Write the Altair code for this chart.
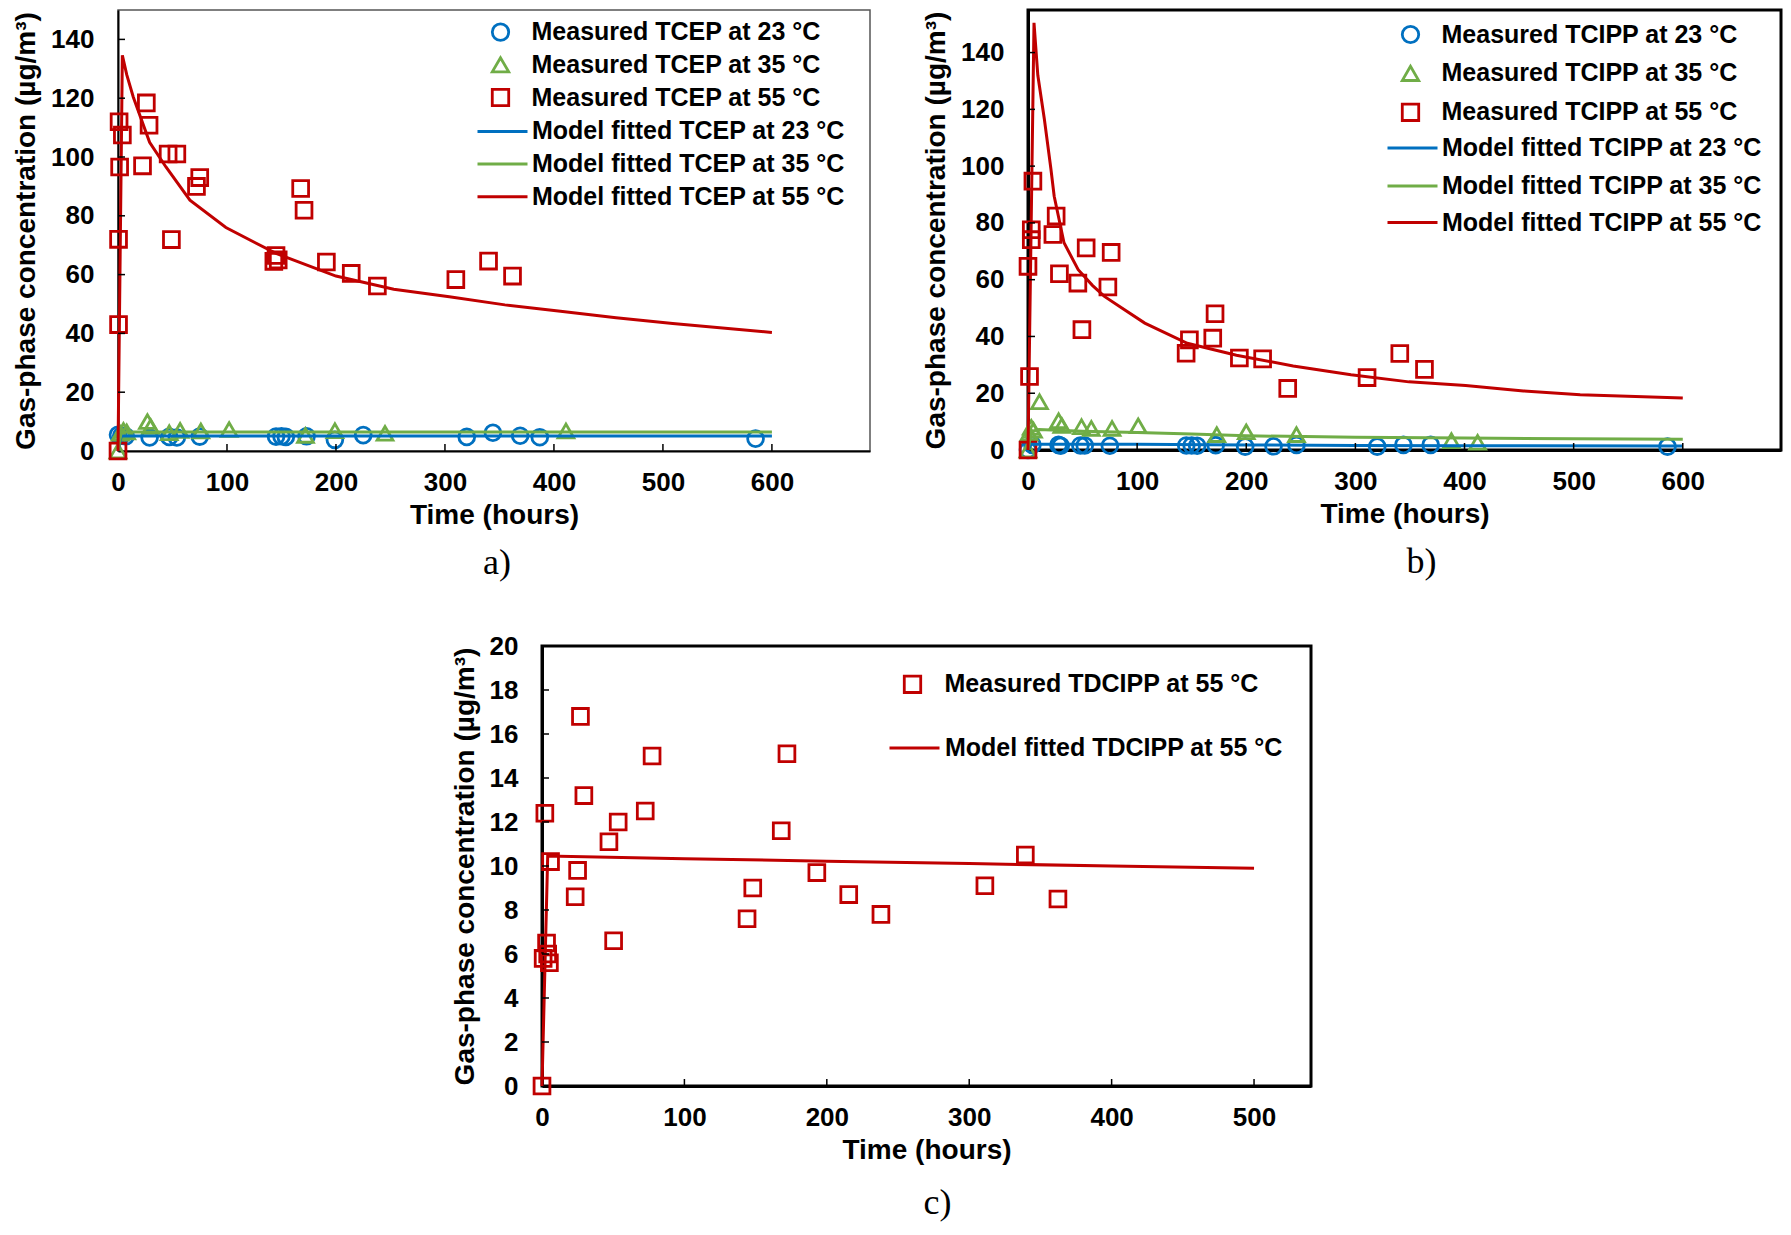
import altair as alt
import pandas as pd

BLUE = "#0070C0"
GREEN = "#70AD47"
RED = "#C00000"
SANS = "Liberation Sans"
SERIF = "Liberation Serif"

# ---------------- Panel a: TCEP ----------------
a_m23_t = [0, 3, 7, 29, 47, 54, 75, 145, 150, 154, 173, 199, 225, 320, 344, 369, 387, 585]
a_m23_v = [5.5, 5.2, 5.0, 4.6, 4.8, 4.6, 4.9, 4.9, 5.0, 4.8, 5.0, 3.8, 5.4, 4.8, 6.2, 5.2, 4.7, 4.2]
a_m35_t = [0, 2, 5, 8, 27, 30, 47, 57, 76, 102, 172, 199, 245, 411]
a_m35_v = [0, 6.0, 7.0, 6.5, 10.0, 8.3, 6.2, 7.0, 6.8, 7.3, 5.3, 6.9, 6.0, 6.8]
a_m55_t = [0, 0.5, 0.5, 1.5, 1, 4, 22.5, 26, 28.5, 46, 54, 49, 72, 75, 143, 145, 147,
           167.6, 170.7, 191.2, 214, 238, 310, 340, 362]
a_m55_v = [0, 43, 72, 96.6, 112, 107.5, 97, 118.4, 110.8, 101, 101, 71.9, 90, 93, 64.5, 66.5, 65,
           89.3, 81.9, 64.3, 60.4, 56.1, 58.3, 64.6, 59.5]
a_f23_t = [0, 3, 600]
a_f23_v = [0, 5.1, 5.1]
a_f35_t = [0, 3, 600]
a_f35_v = [0, 6.5, 6.5]
a_f55_t = [0, 4, 8, 14, 29, 44, 66, 99, 145, 200, 253, 304, 355, 406, 457, 509, 600]
a_f55_v = [0, 134.6, 128, 120.4, 105, 96.6, 85.3, 76, 67.2, 59.5, 55, 52.5, 49.7, 47.5, 45.3, 43.4, 40.3]

# ---------------- Panel b: TCIPP ----------------
b_m23_t = [0, 4, 28, 30, 48, 52, 75, 145, 150, 155, 172, 199, 225, 246, 320, 344, 369, 586]
b_m23_v = [0, 1.8, 1.8, 1.5, 1.6, 1.6, 1.5, 1.6, 1.6, 1.5, 1.7, 1.2, 1.3, 1.8, 1.2, 1.8, 1.8, 1.2]
b_m35_t = [0, 1, 3, 5, 10.5, 28, 31, 49, 58, 77, 101, 173, 200, 246, 388, 412]
b_m35_v = [0, 6, 8, 7, 17, 10.3, 8.6, 8.2, 7.6, 7.6, 8.5, 5.4, 6.4, 5.4, 3.3, 2.7]
b_m55_t = [0, 0, 1.4, 3, 3, 4.5, 22.8, 25.8, 28.8, 45.7, 49.4, 53.3, 73.2, 76.2, 144.9, 147.9,
           169.3, 171.4, 193.7, 215, 238, 310.7, 340.7, 363.3]
b_m55_v = [0, 64.7, 25.9, 77.6, 74.1, 94.7, 75.9, 82.4, 62.1, 58.8, 42.4, 71.2, 57.4, 69.6, 34.1, 38.8,
           39.4, 48, 32.4, 32.1, 21.7, 25.5, 34, 28.4]
b_f23_t = [0, 3, 100, 200, 300, 400, 600]
b_f23_v = [0, 2.0, 2.0, 1.8, 1.6, 1.5, 1.4]
b_f35_t = [0, 3, 10, 50, 100, 150, 200, 300, 400, 500, 600]
b_f35_v = [0, 6.5, 7.2, 6.6, 6.2, 5.6, 5.0, 4.5, 4.2, 4.0, 3.8]
b_f55_t = [0, 5.5, 9, 15, 21, 24, 33, 46, 59, 70, 86, 107, 146, 191, 243, 296, 349, 401, 454, 506, 600]
b_f55_v = [0, 150.5, 132, 116.5, 99, 89.4, 73, 63.5, 58, 54.1, 50, 44.7, 37.6, 33.4, 29.6, 26.5, 24,
           22.7, 20.8, 19.5, 18.3]

# ---------------- Panel c: TDCIPP ----------------
c_m55_t = [0, 0.8, 2, 3.2, 4, 5.2, 6, 23.3, 25, 27, 29.4, 47, 50.3, 53.5, 72.5, 77.3, 144, 148,
           168, 172, 193, 215.4, 238, 311, 339.4, 362.3]
c_m55_v = [0, 5.8, 12.4, 6.5, 6.0, 5.6, 10.2, 8.6, 9.8, 16.8, 13.2, 11.1, 6.6, 12.0, 12.5, 15.0, 7.6,
           9.0, 11.6, 15.1, 9.7, 8.7, 7.8, 9.1, 10.5, 8.5]
c_f55_t = [0, 4, 100, 200, 300, 400, 500]
c_f55_v = [0, 10.45, 10.33, 10.22, 10.11, 10.0, 9.9]

# axis tick values
ab_x_ticks = [0, 100, 200, 300, 400, 500, 600]
ab_y_ticks = [0, 20, 40, 60, 80, 100, 120, 140]
c_x_ticks = [0, 100, 200, 300, 400, 500]
c_y_ticks = [0, 2, 4, 6, 8, 10, 12, 14, 16, 18, 20]

Y_TITLE = "Gas-phase concentration (µg/m³)"
X_TITLE = "Time (hours)"


def panel(key, W, H, xdom, ydom, xticks, yticks, meas, fits, leg, frame, label, label_dx, label_off):
    dw = frame["dw"]
    X = alt.X("t:Q", scale=alt.Scale(domain=xdom, nice=False, zero=False),
              axis=alt.Axis(values=xticks, title=X_TITLE, domainWidth=dw, labelPadding=18,
                            titlePadding=6))
    Y = alt.Y("v:Q", scale=alt.Scale(domain=ydom, nice=False, zero=False),
              axis=alt.Axis(values=yticks, title=Y_TITLE, domainWidth=dw, labelPadding=24,
                            titlePadding=10))
    sf = "s_" + key
    mdf = pd.concat([pd.DataFrame({"t": t, "v": v, sf: name}) for name, t, v, c, s in meas])
    mleg = alt.Legend(title=None, orient="none", legendX=leg["px"], legendY=leg["py"],
                      direction="vertical", symbolSize=270, symbolStrokeWidth=2.8,
                      rowPadding=leg["rp"], labelOffset=leg["plo"])
    mnames = [m[0] for m in meas]
    layers = [alt.Chart(mdf).mark_point(filled=False, size=250, strokeWidth=2.8, opacity=1).encode(
        x=X, y=Y,
        color=alt.Color(sf + ":N", scale=alt.Scale(domain=mnames, range=[m[3] for m in meas]), legend=mleg),
        shape=alt.Shape(sf + ":N", scale=alt.Scale(domain=mnames, range=[m[4] for m in meas]), legend=mleg),
    )]
    for i, (name, t, v, c) in enumerate(fits):
        ff = "f_%s%d" % (key, i)
        fleg = alt.Legend(title=None, orient="none", legendX=leg["lx"], legendY=leg["ly"][i],
                          direction="vertical", symbolType="stroke", symbolSize=2500,
                          symbolStrokeWidth=3, labelOffset=leg["llo"])
        layers.append(
            alt.Chart(pd.DataFrame({"t": t, "v": v, ff: name})).mark_line(strokeWidth=3).encode(
                x=X, y=Y,
                color=alt.Color(ff + ":N", scale=alt.Scale(domain=[name], range=[c]), legend=fleg),
            )
        )
    layers.append(
        alt.Chart(pd.DataFrame({"t": xticks[1:]})).mark_rule(color="black", strokeWidth=1.5).encode(
            x=X, y=alt.value(H), y2=alt.value(H - 7))
    )
    ytv = yticks[1:-1] if yticks[-1] >= ydom[1] else yticks[1:]
    layers.append(
        alt.Chart(pd.DataFrame({"v": ytv})).mark_rule(color="black", strokeWidth=1.5).encode(
            y=Y, x=alt.value(0), x2=alt.value(7))
    )
    return alt.layer(*layers).resolve_scale(
        color="independent", shape="independent"
    ).properties(
        width=W, height=H,
        view=alt.ViewBackground(stroke=frame["color"], strokeWidth=frame["w"]),
        title=alt.TitleParams(label, orient="bottom", anchor="middle", font=SERIF, fontSize=36,
                              fontWeight="normal", color="black", offset=label_off, dx=label_dx),
    )


pa = panel(
    "a", 752, 441, [0, 690], [0, 150], ab_x_ticks, ab_y_ticks,
    [("Measured TCEP at 23 °C", a_m23_t, a_m23_v, BLUE, "circle"),
     ("Measured TCEP at 35 °C", a_m35_t, a_m35_v, GREEN, "triangle-up"),
     ("Measured TCEP at 55 °C", a_m55_t, a_m55_v, RED, "square")],
    [("Model fitted TCEP at 23 °C", a_f23_t, a_f23_v, BLUE),
     ("Model fitted TCEP at 35 °C", a_f35_t, a_f35_v, GREEN),
     ("Model fitted TCEP at 55 °C", a_f55_t, a_f55_v, RED)],
    {"px": 370, "py": 9.6, "rp": 4.7, "plo": 18.5,
     "lx": 358, "ly": [94.9, 127.4, 160.2], "llo": 3},
    {"dw": 2, "color": "#555555", "w": 1.5}, "a)", 3, 17,
)

pb = panel(
    "b", 753, 440, [0, 690], [0, 155], ab_x_ticks, ab_y_ticks,
    [("Measured TCIPP at 23 °C", b_m23_t, b_m23_v, BLUE, "circle"),
     ("Measured TCIPP at 35 °C", b_m35_t, b_m35_v, GREEN, "triangle-up"),
     ("Measured TCIPP at 55 °C", b_m55_t, b_m55_v, RED, "square")],
    [("Model fitted TCIPP at 23 °C", b_f23_t, b_f23_v, BLUE),
     ("Model fitted TCIPP at 35 °C", b_f35_t, b_f35_v, GREEN),
     ("Model fitted TCIPP at 55 °C", b_f55_t, b_f55_v, RED)],
    {"px": 370, "py": 12, "rp": 10.9, "plo": 18.5,
     "lx": 358, "ly": [111.6, 149.6, 186], "llo": 3},
    {"dw": 3, "color": "black", "w": 3}, "b)", 17, 17,
)

pc = panel(
    "c", 769, 440, [0, 540], [0, 20], c_x_ticks, c_y_ticks,
    [("Measured TDCIPP at 55 °C", c_m55_t, c_m55_v, RED, "square")],
    [("Model fitted TDCIPP at 55 °C", c_f55_t, c_f55_v, RED)],
    {"px": 358, "py": 25.8, "rp": 5, "plo": 19.5,
     "lx": 346, "ly": [75.6], "llo": 4},
    {"dw": 3, "color": "black", "w": 3}, "c)", 11, 22,
)

spacer = alt.Chart(pd.DataFrame({"z": [0]})).mark_point(opacity=0).encode(
    x=alt.value(0), y=alt.value(0)
).properties(width=404, height=440, view=alt.ViewBackground(stroke="transparent"))

top = alt.hconcat(pa, pb, spacing=158, bounds="flush").resolve_scale(
    x="independent", y="independent", color="independent", shape="independent")
bottom = alt.hconcat(spacer, pc, spacing=20, bounds="flush").resolve_scale(
    x="independent", y="independent", color="independent", shape="independent")
chart = alt.vconcat(top, bottom, spacing=636, bounds="flush").resolve_scale(
    x="independent", y="independent", color="independent", shape="independent"
).properties(
    padding={"left": 3, "top": 0, "right": 0, "bottom": 0}, background="white"
).configure_axis(
    labelFont=SANS, labelFontSize=26, labelFontWeight="bold", labelColor="black",
    titleFont=SANS, titleFontSize=28, titleFontWeight="bold", titleColor="black",
    grid=False, ticks=False, domainColor="black", labelFlush=False, labelOverlap=False,
).configure_legend(
    labelFont=SANS, labelFontSize=25, labelFontWeight="bold", labelColor="black",
    labelLimit=600, padding=0,
)

chart.save("out.html", embed_options={"renderer": "svg", "actions": False})
